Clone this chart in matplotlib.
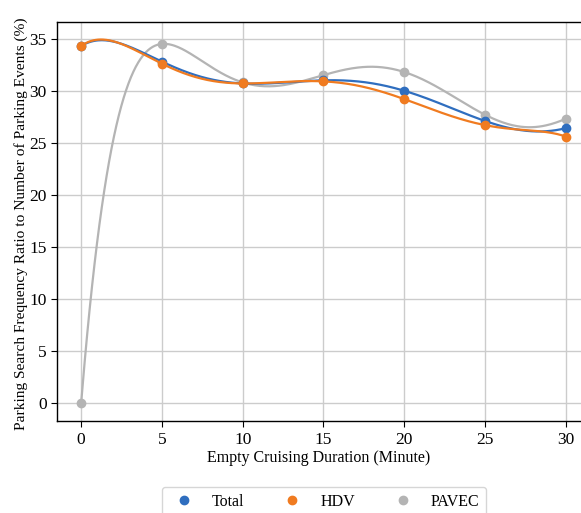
import numpy as np
import matplotlib
matplotlib.use("Agg")
import matplotlib.pyplot as plt

plt.rcParams['font.family'] = ['Liberation Serif', 'DejaVu Serif']
plt.rcParams['font.size'] = 11.5

x = [0, 5, 10, 15, 20, 25, 30]
total = [34.3, 32.8, 30.7, 31.0, 30.0, 27.1, 26.4]
hdv = [34.3, 32.6, 30.7, 30.9, 29.2, 26.7, 25.6]
pavec = [0.0, 34.5, 30.8, 31.5, 31.8, 27.7, 27.3]
names = ['Total', 'HDV', 'PAVEC']
colors = ['#2f6ebf', '#f07b20', '#b4b4b4']

fig = plt.figure(figsize=(5.81, 5.13), dpi=100)
ax = fig.add_axes([0.098, 0.179, 0.902, 0.778])

xx = np.linspace(min(x), max(x), 400)
for ys, name, col, z in zip([total, hdv, pavec], names, colors, [3, 4, 2]):
    coef = np.polyfit(x, ys, len(x) - 1)
    ax.plot(xx, np.polyval(coef, xx), color=col, lw=1.6, zorder=z)
    ax.plot(x, ys, 'o', color=col, ms=6, zorder=z, label=name)

ax.set_xlim(-1.5, 30.95)
ax.set_ylim(-1.75, 36.6)
ax.set_xticks(x)
ax.set_yticks([0, 5, 10, 15, 20, 25, 30, 35])
ax.grid(True, color='#cccccc', lw=1)
ax.set_axisbelow(True)
ax.spines['right'].set_visible(False)
for s in ['left', 'bottom', 'top']:
    ax.spines[s].set_color('black')
    ax.spines[s].set_linewidth(1)
ax.tick_params(direction='out', length=4, color='black', labelsize=12.5)
ax.set_xlabel('Empty Cruising Duration (Minute)', fontsize=11.5)
ax.set_ylabel('Parking Search Frequency Ratio to Number of Parking Events (%)', fontsize=11.1)
ax.xaxis.set_label_coords(0.5, -0.071)
ax.yaxis.set_label_coords(-0.056, 0.495)

fig.legend(loc='upper center', bbox_to_anchor=(0.557, 0.066), ncol=3,
           frameon=True, edgecolor='#cccccc', fancybox=True,
           columnspacing=2.0, handlelength=2.0, handletextpad=0.75)

fig.savefig('out.png', dpi=100)
